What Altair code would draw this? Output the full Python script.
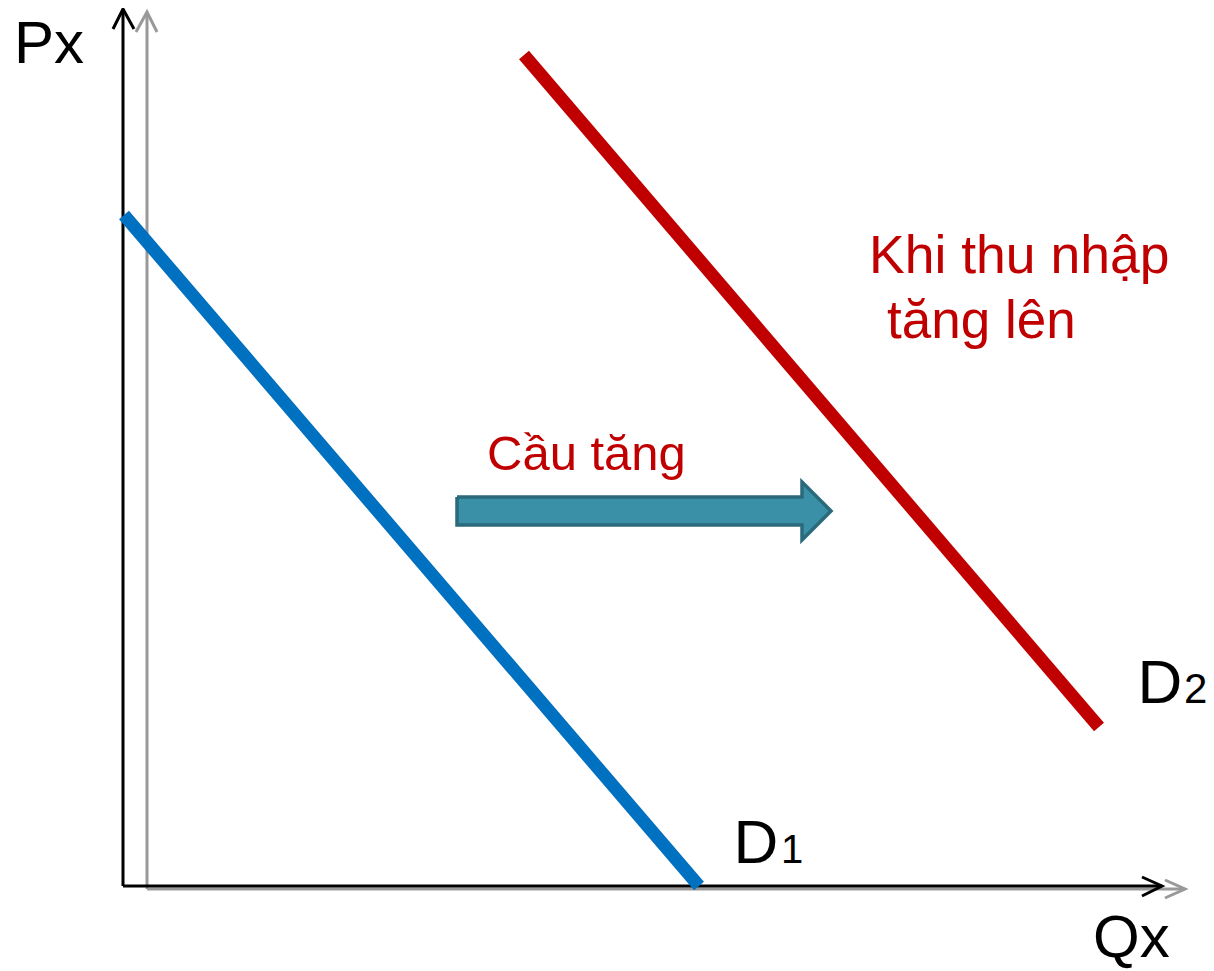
import altair as alt
import pandas as pd

# Units: quantity Q and price P (arbitrary units of the schematic diagram)
Q_DOMAIN = [-11.5, 108.3]
P_DOMAIN = [-8.5, 87.8]

# Demand curves (endpoints)
d1_q = [0.1, 57.6]
d1_p = [67.1, 0.0]
d2_q = [40.1, 97.6]
d2_p = [83.1, 15.9]

# Axes (black) : polylines (seg id, Q, P)
black_seg = ["y", "y", "ya", "ya", "ya", "x", "x", "xa", "xa", "xa"]
black_q = [0.0, 0.0, -1.0, 0.0, 1.1, 0.0, 103.9, 101.9, 103.9, 101.9]
black_p = [0.0, 87.7, 85.7, 87.7, 85.7, 0.0, 0.0, 0.9, 0.0, -1.0]

# Axes (grey, slightly offset)
grey_seg = ["y", "y", "ya", "ya", "ya", "x", "x", "xa", "xa", "xa"]
grey_q = [2.4, 2.4, 1.3, 2.4, 3.4, 2.4, 106.2, 104.2, 106.2, 104.2]
grey_p = [-0.3, 87.4, 85.4, 87.4, 85.4, -0.3, -0.3, 0.6, -0.3, -1.2]

# Block arrow "Cầu tăng"
arrow_q = [33.4, 67.9, 67.9, 70.8, 67.9, 67.9, 33.4, 33.4]
arrow_p = [38.9, 38.9, 40.4, 37.5, 34.6, 36.1, 36.1, 38.9]

# Text labels
lab_text = ["Px", "Qx", "D", "1", "D", "2", "Khi thu nhập", "tăng lên", "Cầu tăng"]
lab_q = [-10.9, 97.0, 61.05, 65.8, 101.45, 106.1, 74.6, 76.4, 36.4]
lab_p = [82.3, -7.1, 2.3, 2.3, 18.3, 18.3, 61.3, 54.8, 41.6]
lab_size = [60, 60, 62, 40, 62, 42, 53.5, 53, 49]
lab_color = ["#000000", "#000000", "#000000", "#000000", "#000000", "#000000",
             "#C00000", "#C00000", "#C00000"]

xs = alt.Scale(domain=Q_DOMAIN, nice=False, zero=False)
ys = alt.Scale(domain=P_DOMAIN, nice=False, zero=False)


def enc(chart, **kw):
    return chart.encode(
        x=alt.X("Q:Q", scale=xs, axis=None),
        y=alt.Y("P:Q", scale=ys, axis=None),
        **kw,
    )


def poly(seg, q, p):
    df = pd.DataFrame({"seg": seg, "Q": q, "P": p})
    df["o"] = range(len(df))
    return df


grey = enc(
    alt.Chart(poly(grey_seg, grey_q, grey_p)).mark_line(
        color="#999999", strokeWidth=3, clip=False, strokeCap="butt"
    ),
    detail="seg:N", order="o:Q",
)
black = enc(
    alt.Chart(poly(black_seg, black_q, black_p)).mark_line(
        color="#000000", strokeWidth=3, clip=False, strokeCap="butt"
    ),
    detail="seg:N", order="o:Q",
)
d1 = enc(
    alt.Chart(poly(["d1"] * 2, d1_q, d1_p)).mark_line(
        color="#0070C0", strokeWidth=13, strokeCap="butt", clip=False
    ),
    order="o:Q",
)
d2 = enc(
    alt.Chart(poly(["d2"] * 2, d2_q, d2_p)).mark_line(
        color="#C00000", strokeWidth=13, strokeCap="butt", clip=False
    ),
    order="o:Q",
)
arrow = enc(
    alt.Chart(poly(["a"] * len(arrow_q), arrow_q, arrow_p)).mark_line(
        fill="#3A90A6", stroke="#2A6A7B", strokeWidth=3.5, strokeJoin="miter", clip=False
    ),
    order="o:Q",
)

labels_df = pd.DataFrame({
    "t": lab_text, "Q": lab_q, "P": lab_p, "s": lab_size, "c": lab_color,
})
labels = enc(
    alt.Chart(labels_df).mark_text(
        align="left", baseline="alphabetic", font="Liberation Sans", clip=False
    ),
    text="t:N",
    size=alt.Size("s:Q", scale=None, legend=None),
    color=alt.Color("c:N", scale=None, legend=None),
)

chart = (
    alt.layer(grey, black, d1, d2, arrow, labels)
    .properties(width=1198, height=963, autosize=alt.AutoSizeParams(type="none"), padding=0)
    .configure_view(stroke=None)
)

chart.save("out.html", embed_options={"renderer": "svg", "actions": False})
